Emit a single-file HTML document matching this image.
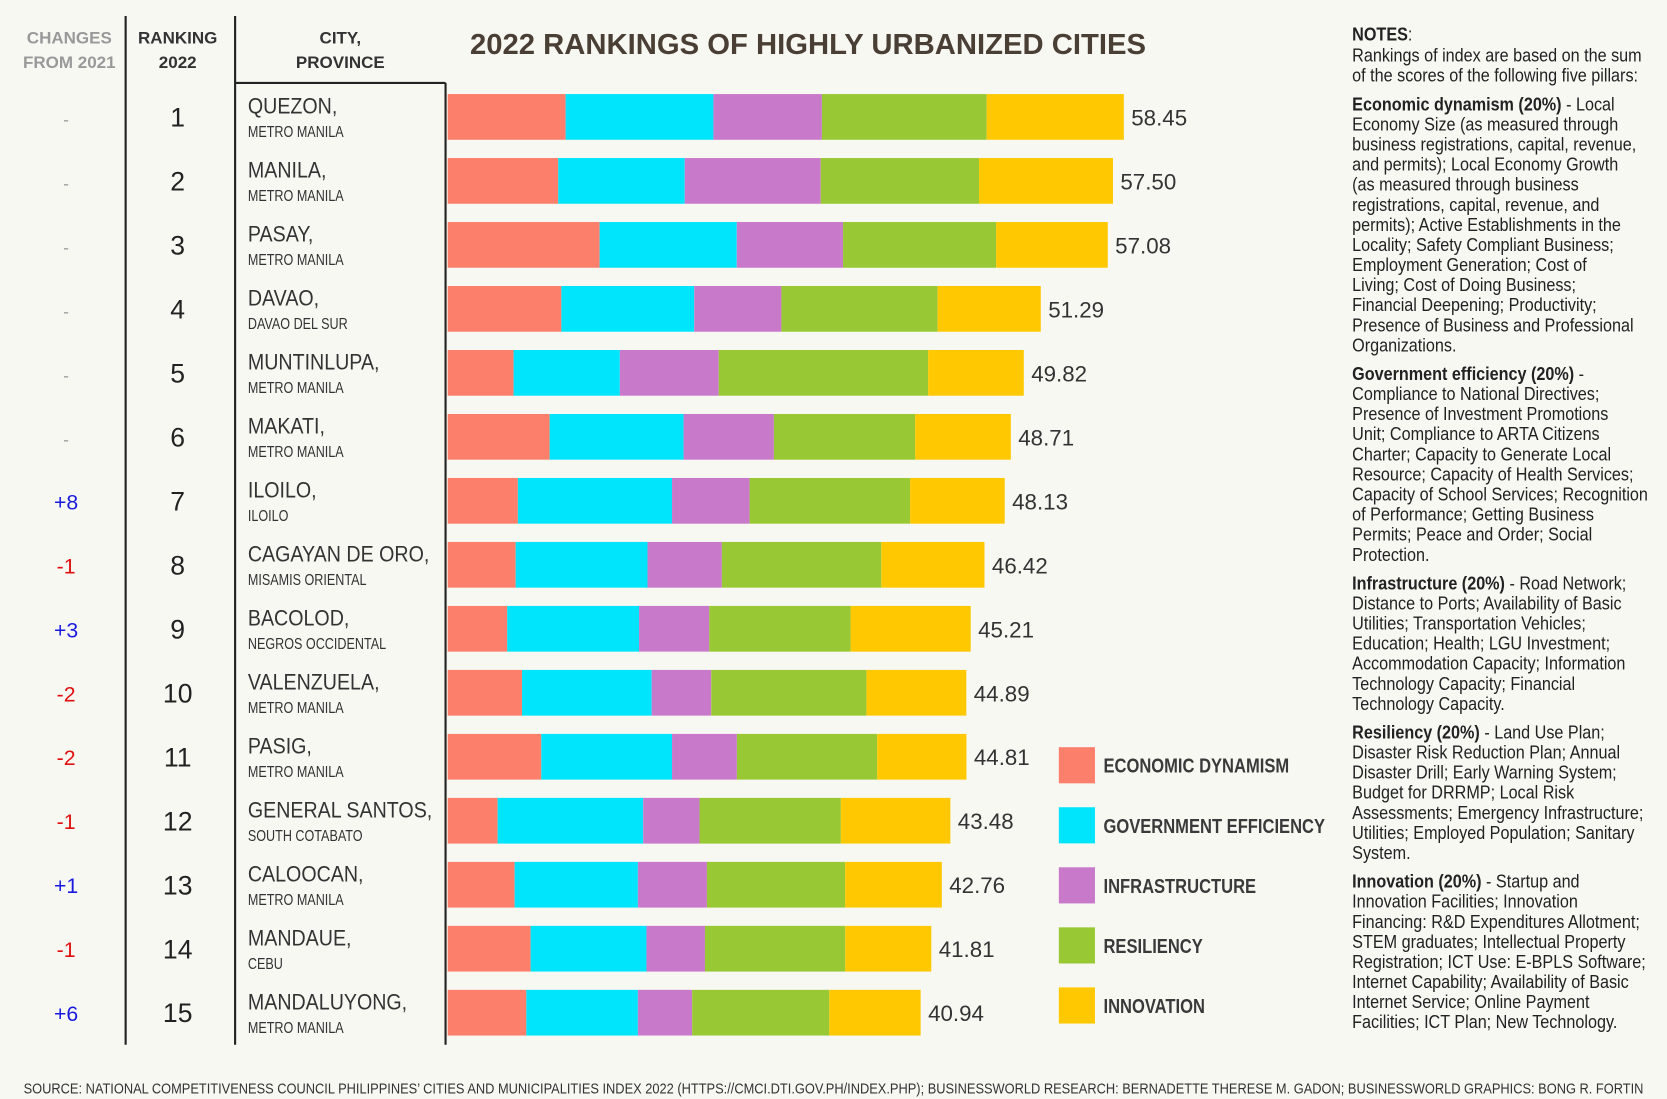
<!DOCTYPE html>
<html><head><meta charset="utf-8"><style>
html,body{margin:0;padding:0;background:#f8f8f3;}
svg{display:block;font-family:"Liberation Sans",sans-serif;}
</style></head><body>
<svg id="chart" width="1667" height="1099" viewBox="0 0 1568 1034" xmlns="http://www.w3.org/2000/svg">
<rect x="0" y="0" width="1568" height="1034" fill="#f8f8f3"/>
<text x="760" y="51" text-anchor="middle" font-weight="bold" font-size="27" fill="#4a3f35" textLength="636" lengthAdjust="spacingAndGlyphs">2022 RANKINGS OF HIGHLY URBANIZED CITIES</text>
<g font-size="16" font-weight="bold" text-anchor="middle">
<text x="65" y="41" fill="#999">CHANGES</text><text x="65" y="64" fill="#999">FROM 2021</text>
<text x="167" y="41" fill="#333">RANKING</text><text x="167" y="64" fill="#333">2022</text>
<text x="320" y="41" fill="#333">CITY,</text><text x="320" y="64" fill="#333">PROVINCE</text>
</g>
<g stroke="#222" stroke-width="2">
<line x1="118" y1="15" x2="118" y2="983"/><line x1="221" y1="15" x2="221" y2="983"/><line x1="419" y1="78" x2="419" y2="983"/><line x1="221" y1="78" x2="419" y2="78"/>
</g>
<g id="rows"></g>
<g id="legend"></g>
<g font-size="17.5" fill="#222" id="notes" transform="translate(1272,0) scale(0.87,1)"></g>
<text x="22" y="1029" font-size="14" fill="#333" textLength="1524" lengthAdjust="spacingAndGlyphs">SOURCE: NATIONAL COMPETITIVENESS COUNCIL PHILIPPINES’ CITIES AND MUNICIPALITIES INDEX 2022 (HTTPS://CMCI.DTI.GOV.PH/INDEX.PHP); BUSINESSWORLD RESEARCH: BERNADETTE THERESE M. GADON; BUSINESSWORLD GRAPHICS: BONG R. FORTIN</text>
</svg>
<script>
const cities=["QUEZON,","MANILA,","PASAY,","DAVAO,","MUNTINLUPA,","MAKATI,","ILOILO,","CAGAYAN DE ORO,","BACOLOD,","VALENZUELA,","PASIG,","GENERAL SANTOS,","CALOOCAN,","MANDAUE,","MANDALUYONG,"];
const provinces=["METRO MANILA","METRO MANILA","METRO MANILA","DAVAO DEL SUR","METRO MANILA","METRO MANILA","ILOILO","MISAMIS ORIENTAL","NEGROS OCCIDENTAL","METRO MANILA","METRO MANILA","SOUTH COTABATO","METRO MANILA","CEBU","METRO MANILA"];
const changes=["-","-","-","-","-","-","+8","-1","+3","-2","-2","-1","+1","-1","+6"];
const totals=["58.45","57.50","57.08","51.29","49.82","48.71","48.13","46.42","45.21","44.89","44.81","43.48","42.76","41.81","40.94"];
const economic=[10.20,9.56,13.14,9.83,5.70,8.82,6.07,5.88,5.15,6.43,8.09,4.32,5.79,7.17,6.80];
const government=[12.78,10.94,11.86,11.49,9.19,11.58,13.33,11.40,11.40,11.21,11.31,12.59,10.66,10.02,9.65];
const infrastructure=[9.38,11.76,9.19,7.54,8.55,7.81,6.71,6.43,6.07,5.15,5.61,4.87,5.97,5.06,4.69];
const resiliency=[14.25,13.69,13.24,13.51,18.11,12.22,13.88,13.79,12.22,13.42,12.13,12.22,11.95,12.13,11.86];
const innovation=[11.86,11.58,9.65,8.92,8.27,8.27,8.18,8.92,10.39,8.64,7.72,9.47,8.36,7.44,7.90];
const seriesNames=["ECONOMIC DYNAMISM","GOVERNMENT EFFICIENCY","INFRASTRUCTURE","RESILIENCY","INNOVATION"];
const NS="http://www.w3.org/2000/svg";
const colors=["#fb7f6b","#00e5fb","#c879c9","#98c834","#ffc800"];
const series=[economic,government,infrastructure,resiliency,innovation];
const x=v=>421+v*10.88;
const y=i=>110+i*60.2;
function mk(tag,attrs,parent,txt){const e=document.createElementNS(NS,tag);for(const k in attrs)e.setAttribute(k,attrs[k]);if(txt!==undefined)e.textContent=txt;parent.appendChild(e);return e;}
const rows=document.getElementById('rows');
cities.forEach((c,i)=>{
 const g=mk('g',{},rows);
 
 
 const ch=changes[i];
 const t1=mk('text',{x:62,y:y(i)+8,'text-anchor':'middle','font-size':ch==='-'?16:20,fill:ch[0]==='+'?'#1a1adf':ch==='-'?'#999':'#e01010'},g,ch);
 
 
 const t2=mk('text',{x:167,y:y(i)+9,'text-anchor':'middle','font-size':25,fill:'#222'},g,String(i+1));
 
 
 const t3=mk('text',{x:0,y:0,transform:`translate(233,${y(i)-3}) scale(0.88,1)`,'font-size':21,fill:'#333'},g,c);
 
 
 const t4=mk('text',{x:0,y:0,transform:`translate(233,${y(i)+19}) scale(0.79,1)`,'font-size':15,fill:'#333'},g,provinces[i]);
 
 
 let acc=0;
 series.forEach((s,k)=>{
  const r=mk('rect',{x:x(acc),y:y(i)-21.5,width:x(acc+s[i])-x(acc),height:43,fill:colors[k]},g);
  
  
  acc+=s[i];
 });
 const t5=mk('text',{x:x(acc)+7,y:y(i)+8,'font-size':21,fill:'#333'},g,totals[i]);
 
 
});
const lg=document.getElementById('legend');
seriesNames.forEach((n,k)=>{
 const g=mk('g',{},lg);
 
 
 mk('rect',{x:996,y:703+k*56.5,width:34,height:34,fill:colors[k]},g);
 mk('text',{x:0,y:0,transform:`translate(1038,${727+k*56.5}) scale(0.82,1)`,'font-size':19,'font-weight':'bold',fill:'#3a3a3a'},g,n);
});
const notes=[
["b","NOTES",":"],
["","Rankings of index are based on the sum"],["","of the scores of the following five pillars:"],["gap"],
["b","Economic dynamism (20%)"," - Local"],["","Economy Size (as measured through"],["","business registrations, capital, revenue,"],["","and permits); Local Economy Growth"],["","(as measured through business"],["","registrations, capital, revenue, and"],["","permits); Active Establishments in the"],["","Locality; Safety Compliant Business;"],["","Employment Generation; Cost of"],["","Living; Cost of Doing Business;"],["","Financial Deepening; Productivity;"],["","Presence of Business and Professional"],["","Organizations."],["gap"],
["b","Government efficiency (20%)"," -"],["","Compliance to National Directives;"],["","Presence of Investment Promotions"],["","Unit; Compliance to ARTA Citizens"],["","Charter; Capacity to Generate Local"],["","Resource; Capacity of Health Services;"],["","Capacity of School Services; Recognition"],["","of Performance; Getting Business"],["","Permits; Peace and Order; Social"],["","Protection."],["gap"],
["b","Infrastructure (20%)"," - Road Network;"],["","Distance to Ports; Availability of Basic"],["","Utilities; Transportation Vehicles;"],["","Education; Health; LGU Investment;"],["","Accommodation Capacity; Information"],["","Technology Capacity; Financial"],["","Technology Capacity."],["gap"],
["b","Resiliency (20%)"," - Land Use Plan;"],["","Disaster Risk Reduction Plan; Annual"],["","Disaster Drill; Early Warning System;"],["","Budget for DRRMP; Local Risk"],["","Assessments; Emergency Infrastructure;"],["","Utilities; Employed Population; Sanitary"],["","System."],["gap"],
["b","Innovation (20%)"," - Startup and"],["","Innovation Facilities; Innovation"],["","Financing: R&D Expenditures Allotment;"],["","STEM graduates; Intellectual Property"],["","Registration; ICT Use: E-BPLS Software;"],["","Internet Capability; Availability of Basic"],["","Internet Service; Online Payment"],["","Facilities; ICT Plan; New Technology."]];
const nt=document.getElementById('notes');
let ny=38;
notes.forEach((l,idx)=>{
 if(l[0]==='gap'){ny+=8;return;}
 const t=mk('text',{x:0,y:ny},nt);
 if(l[0]==='b'){mk('tspan',{'font-weight':'bold'},t,l[1]);mk('tspan',{},t,l[2]);}
 else t.textContent=l[1];
 ny+=(idx===0?20:18.9);
});
</script>
</body></html>
